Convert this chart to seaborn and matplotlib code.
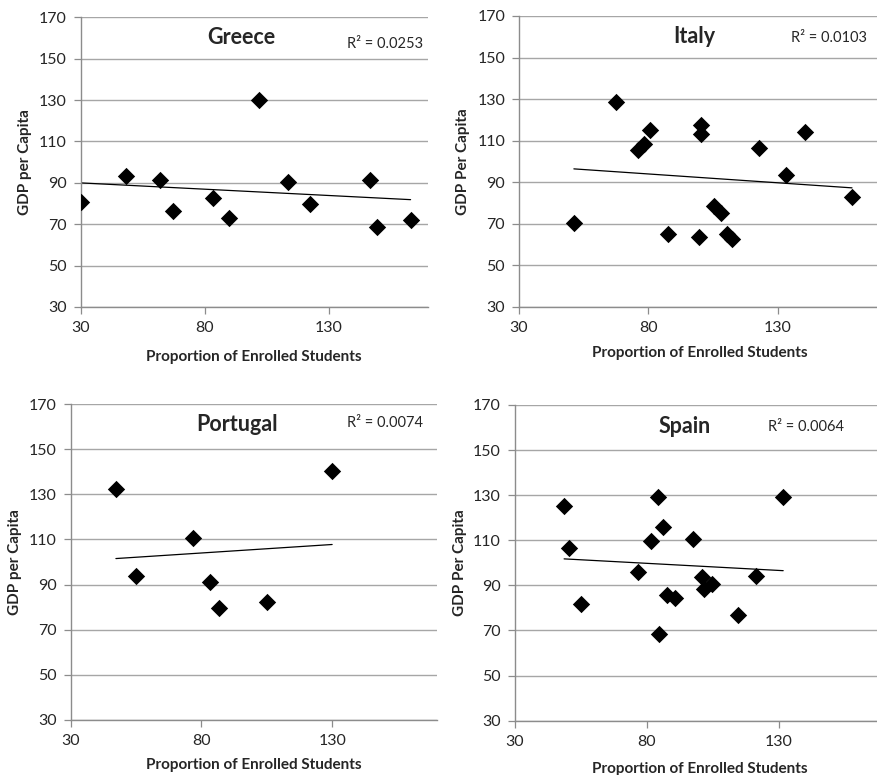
import numpy as np
import pandas as pd
import matplotlib
matplotlib.use("Agg")
import matplotlib.pyplot as plt
import seaborn as sns

# ---------------- data ----------------
greece_x = [30.0, 48.3, 62.0, 67.4, 83.3, 89.9, 101.9, 113.6, 122.5, 146.8, 149.5, 163.1]
greece_y = [80.6, 93.5, 91.4, 76.2, 82.8, 73.2, 130.0, 90.3, 79.6, 91.4, 68.8, 72.0]

italy_x = [51.2, 67.6, 76.1, 78.3, 80.5, 87.5, 100.3, 100.3, 99.6, 105.4, 108.2, 110.3,
           112.1, 122.5, 133.1, 140.3, 158.6]
italy_y = [70.6, 128.6, 105.5, 108.4, 115.3, 65.0, 117.4, 113.1, 63.8, 78.4, 75.1, 65.0,
           62.7, 106.7, 93.3, 114.4, 82.9]

portugal_x = [47.3, 54.9, 76.6, 83.2, 86.6, 105.2, 130.0]
portugal_y = [132.3, 93.8, 110.5, 91.1, 79.5, 82.3, 140.2]

spain_x = [48.7, 50.7, 55.0, 76.5, 81.6, 84.1, 84.6, 86.0, 87.8, 90.7, 97.3, 101.0,
           101.5, 104.8, 114.5, 121.2, 131.6]
spain_y = [125.1, 106.7, 81.7, 96.1, 109.8, 129.0, 68.3, 115.7, 85.7, 84.5, 110.7, 93.7,
           88.4, 90.5, 77.0, 94.2, 129.0]

countries = ["Greece", "Italy", "Portugal", "Spain"]
r2_labels = ["R² = 0.0253", "R² = 0.0103", "R² = 0.0074", "R² = 0.0064"]
y_labels = ["GDP per Capita", "GDP Per Capita", "GDP per Capita", "GDP Per Capita"]
x_label = "Proportion of Enrolled Students"
x_ticks = [30, 80, 130]
y_ticks = [30, 50, 70, 90, 110, 130, 150, 170]

series = {
    "Greece": (greece_x, greece_y),
    "Italy": (italy_x, italy_y),
    "Portugal": (portugal_x, portugal_y),
    "Spain": (spain_x, spain_y),
}

# ---------------- layout / style ----------------
sns.set_theme(style="white")
plt.rcParams["font.family"] = ["Lato", "DejaVu Sans"]

fig = plt.figure(figsize=(8.78, 7.75), dpi=100)

layout = {
    # axes rect, title pos (axes frac), r2 pos (data), ylabel x, xlabel y
    "Greece":   dict(rect=[0.0919, 0.6039, 0.3952, 0.3738], title=(0.464, 0.929), r2=(137.6, 157.1), ylx=-0.160, xly=-0.172),
    "Italy":    dict(rect=[0.5911, 0.6039, 0.4129, 0.3755], title=(0.483, 0.929), r2=(135.1, 159.4), ylx=-0.154, xly=-0.158),
    "Portugal": dict(rect=[0.0805, 0.0710, 0.4169, 0.4077], title=(0.454, 0.934), r2=(135.5, 161.6), ylx=-0.152, xly=-0.142),
    "Spain":    dict(rect=[0.5862, 0.0701, 0.4214, 0.4074], title=(0.459, 0.931), r2=(125.8, 160.2), ylx=-0.149, xly=-0.153),
}

grid_color = "#a6a6a6"
spine_color = "#8c8c8c"
text_color = "#262626"

for name, r2, ylab in zip(countries, r2_labels, y_labels):
    xs, ys = series[name]
    df = pd.DataFrame({"x": xs, "y": ys})
    L = layout[name]
    ax = fig.add_axes(L["rect"])

    sns.regplot(data=df, x="x", y="y", ax=ax, scatter=False, ci=None,
                line_kws=dict(color="black", lw=0.9), truncate=True)
    sns.scatterplot(data=df, x="x", y="y", ax=ax, marker="D", s=78,
                    color="black", edgecolor="black", linewidth=0, zorder=5)

    ax.set_xlim(30, 170)
    ax.set_ylim(30, 170)
    ax.set_xticks(x_ticks)
    ax.set_yticks(y_ticks)
    ax.set_xticklabels([str(v) for v in x_ticks])
    ax.set_yticklabels([str(v) for v in y_ticks])
    ax.tick_params(axis="both", which="major", direction="out", length=5,
                   width=0.9, color=spine_color, labelsize=11.5,
                   labelcolor=text_color, pad=5, bottom=True, left=True)

    ax.yaxis.grid(True, color=grid_color, lw=1.0)
    ax.xaxis.grid(False)
    ax.set_axisbelow(True)
    for side in ["top", "right"]:
        ax.spines[side].set_visible(False)
    for side in ["left", "bottom"]:
        ax.spines[side].set_color(spine_color)
        ax.spines[side].set_linewidth(1.0)

    ax.set_xlabel(x_label, fontsize=11, fontweight="bold", color=text_color, va="center")
    ax.set_ylabel(ylab, fontsize=11, fontweight="bold", color=text_color, va="center")
    ax.xaxis.set_label_coords(0.5, L["xly"])
    ax.yaxis.set_label_coords(L["ylx"], 0.5)

    ax.text(L["title"][0], L["title"][1], name, transform=ax.transAxes,
            ha="center", va="center", fontsize=15.5, fontweight="bold", color=text_color)
    ax.text(L["r2"][0], L["r2"][1], r2, ha="left", va="center",
            fontsize=10.5, color=text_color)

fig.savefig("out.png", dpi=100)
